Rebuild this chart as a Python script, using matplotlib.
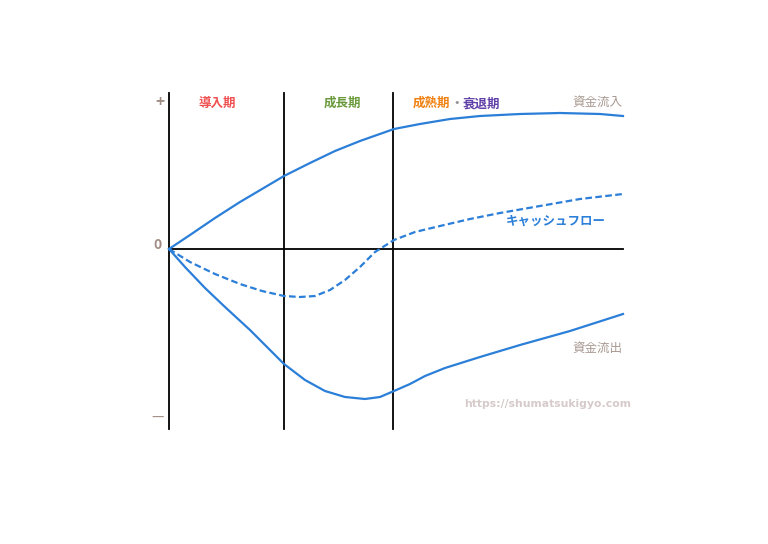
import matplotlib
matplotlib.use('Agg')
import matplotlib.pyplot as plt
import numpy as np

plt.rcParams['font.family'] = ['Noto Sans CJK JP', 'DejaVu Sans']

# 時間軸 (原点 = 0)、縦軸は資金 (+ 流入 / - 流出)
inflow_x = [0, 0.21, 0.46, 0.71, 0.93, 1.15, 1.41, 1.66, 1.91, 2.25, 2.51, 2.81, 3.11, 3.51, 3.91, 4.31, 4.54]
inflow_y = [0, 0.14, 0.31, 0.47, 0.60, 0.73, 0.86, 0.98, 1.08, 1.20, 1.25, 1.30, 1.33, 1.35, 1.36, 1.35, 1.33]

outflow_x = [0, 0.16, 0.36, 0.56, 0.81, 1.01, 1.15, 1.36, 1.56, 1.76, 1.96, 2.11, 2.25, 2.41, 2.56, 2.76, 3.11, 3.51, 4.01, 4.54]
outflow_y = [0, -0.18, -0.39, -0.58, -0.81, -1.01, -1.15, -1.31, -1.42, -1.48, -1.50, -1.48, -1.42, -1.35, -1.27, -1.19, -1.08, -0.96, -0.82, -0.65]

cash_x = [0, 0.21, 0.46, 0.71, 0.93, 1.15, 1.31, 1.46, 1.61, 1.76, 1.91, 2.06, 2.25, 2.46, 2.71, 3.01, 3.31, 3.71, 4.11, 4.54]
cash_y = [0, -0.13, -0.25, -0.35, -0.42, -0.47, -0.48, -0.47, -0.41, -0.31, -0.18, -0.03, 0.09, 0.17, 0.23, 0.30, 0.36, 0.43, 0.50, 0.55]

# フェーズ境界
phase_bounds = [0, 1.15, 2.24]
axis_end = 4.54

line_color = '#2b7fd8'
label_color = '#a08c84'

fig = plt.figure(figsize=(7.68, 5.44), dpi=100)
ax = fig.add_axes([0, 0, 1, 1])
ax.set_xlim(-1.69, 5.99)
ax.set_ylim(-2.95, 2.49)
ax.axis('off')

# 軸・区切り線
ax.plot([0, axis_end], [0, 0], color='black', lw=1.3)
for xb in phase_bounds:
    ax.plot([xb, xb], [1.56, -1.80], color='black', lw=1.3)

# 曲線
ax.plot(inflow_x, inflow_y, color=line_color, lw=1.6, solid_joinstyle='round')
ax.plot(outflow_x, outflow_y, color=line_color, lw=1.6, solid_joinstyle='round')
ax.plot(cash_x, cash_y, color=line_color, lw=1.6, linestyle=(0, (3, 1.5)))

# 軸ラベル
ax.text(-0.09, 1.47, '+', color=label_color, fontsize=11, fontweight='bold', ha='center', va='center')
ax.text(-0.11, 0.04, '0', color=label_color, fontsize=10, fontweight='bold', ha='center', va='center')
ax.text(-0.11, -1.69, '—', color=label_color, fontsize=10, ha='center', va='center')

# フェーズ名
ty = 1.455
ax.text(0.485, ty, '導入期', color='#f05050', fontsize=9, fontweight='bold', ha='center', va='center')
ax.text(1.735, ty, '成長期', color='#6a9a3c', fontsize=9, fontweight='bold', ha='center', va='center')
ax.text(2.625, ty, '成熟期', color='#f08010', fontsize=9, fontweight='bold', ha='center', va='center')
ax.text(2.88, ty, '・', color='#909090', fontsize=9, fontweight='bold', ha='center', va='center')
ax.text(3.125, ty, '衰退期', color='#6040a8', fontsize=9, fontweight='bold', ha='center', va='center')

# 曲線ラベル
ax.text(4.28, 1.47, '資金流入', color='#a89890', fontsize=9, ha='center', va='center')
ax.text(3.87, 0.28, 'キャッシュフロー', color=line_color, fontsize=9, fontweight='bold', ha='center', va='center')
ax.text(4.28, -0.99, '資金流出', color='#a89890', fontsize=9, ha='center', va='center')
ax.text(3.79, -1.55, 'https://shumatsukigyo.com', color='#d6caca', fontsize=7.8, fontweight='bold',
        family=['DejaVu Sans'], ha='center', va='center')

fig.savefig('out.png', dpi=100, facecolor='white')
